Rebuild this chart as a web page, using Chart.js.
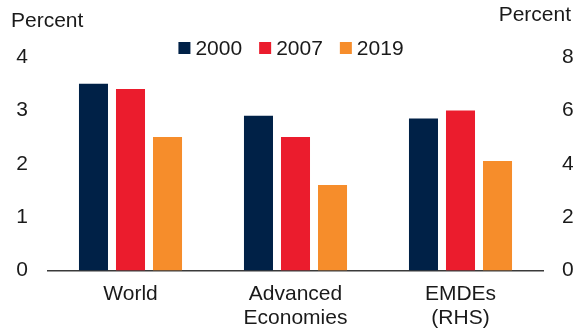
<!DOCTYPE html>
<html>
<head>
<meta charset="utf-8">
<script src="https://cdn.jsdelivr.net/npm/chart.js@4.4.1/dist/chart.umd.min.js"></script>
<style>
  html, body { margin: 0; padding: 0; background: #fff; }
  #wrap { width: 573px; height: 335px; position: relative; }
</style>
</head>
<body>
<div id="wrap"><canvas id="c"></canvas></div>
<script>
// values
const categories = [["World"], ["Advanced", "Economies"], ["EMDEs", "(RHS)"]];
const years = ["2000", "2007", "2019"];
const world = [3.5, 3.4, 2.5];
const advanced = [2.9, 2.5, 1.6];
const emdes = [5.7, 6.0, 4.1];          // right-hand scale
const leftTicks = [0, 1, 2, 3, 4];
const rightTicks = [0, 2, 4, 6, 8];
const colors = ["#002147", "#EB1C2D", "#F68D2B"];

const FONT = "'Liberation Sans', Arial, sans-serif";
const ink = "#1a1a1a";

// left axis bars (World, Advanced) then right axis bars (EMDEs), one stack per year
const datasets = [];
years.forEach((y, i) => {
  datasets.push({ label: y, data: [world[i], advanced[i], null], yAxisID: "y",
    stack: y, backgroundColor: colors[i] });
});
years.forEach((y, i) => {
  datasets.push({ label: y, data: [null, null, emdes[i]], yAxisID: "y1",
    stack: y, backgroundColor: colors[i] });
});

const extras = {
  id: "extras",
  afterDraw(chart) {
    const ctx = chart.ctx;
    ctx.save();
    ctx.font = "21px " + FONT;
    ctx.fillStyle = ink;
    ctx.textBaseline = "middle";
    ctx.textAlign = "left";
    ctx.fillText("Percent", 11, 21);
    ctx.textAlign = "right";
    ctx.fillText("Percent", 571, 15);

    // legend
    const box = 12, gap = 5, space = 17;
    const items = years.map((y, i) => ({ text: y, color: colors[i], w: ctx.measureText(y).width }));
    const total = items.reduce((s, it) => s + box + gap + it.w, 0) + space * (items.length - 1);
    let x = 291 - total / 2;
    const cy = 48;
    ctx.textAlign = "left";
    items.forEach((it) => {
      ctx.fillStyle = it.color;
      ctx.fillRect(x, cy - box / 2, box, box);
      ctx.fillStyle = ink;
      ctx.fillText(it.text, x + box + gap, cy + 1);
      x += box + gap + it.w + space;
    });
    ctx.restore();
  },
};

const tickFont = { family: FONT, size: 21 };

new Chart(document.getElementById("c"), {
  type: "bar",
  data: { labels: categories, datasets },
  plugins: [extras],
  options: {
    responsive: true, maintainAspectRatio: false, animation: false,
    categoryPercentage: 0.673, barPercentage: 0.784,
    layout: { padding: { top: 57, left: 0, right: 0, bottom: 0 } },
    plugins: { legend: { display: false }, tooltip: { enabled: false } },
    scales: {
      x: {
        grid: { display: false, drawTicks: false },
        border: { display: true, color: "#3a3a3a", width: 1.5 },
        ticks: { color: ink, padding: 12, maxRotation: 0, autoSkip: false,
          font: { family: FONT, size: 21, lineHeight: 1.143 } },
        afterFit: (s) => { s.height = 64.5; },
      },
      y: {
        position: "left", min: 0, max: 4,
        grid: { display: false, drawTicks: false }, border: { display: false },
        afterBuildTicks: (s) => { s.ticks = leftTicks.map((v) => ({ value: v })); },
        ticks: { color: ink, padding: 20, font: tickFont },
        afterFit: (s) => { s.width = 48; },
      },
      y1: {
        position: "right", min: 0, max: 8,
        grid: { display: false, drawTicks: false }, border: { display: false },
        afterBuildTicks: (s) => { s.ticks = rightTicks.map((v) => ({ value: v })); },
        ticks: { color: ink, padding: 19, font: tickFont },
        afterFit: (s) => { s.width = 30; },
      },
    },
  },
});
</script>
</body>
</html>
